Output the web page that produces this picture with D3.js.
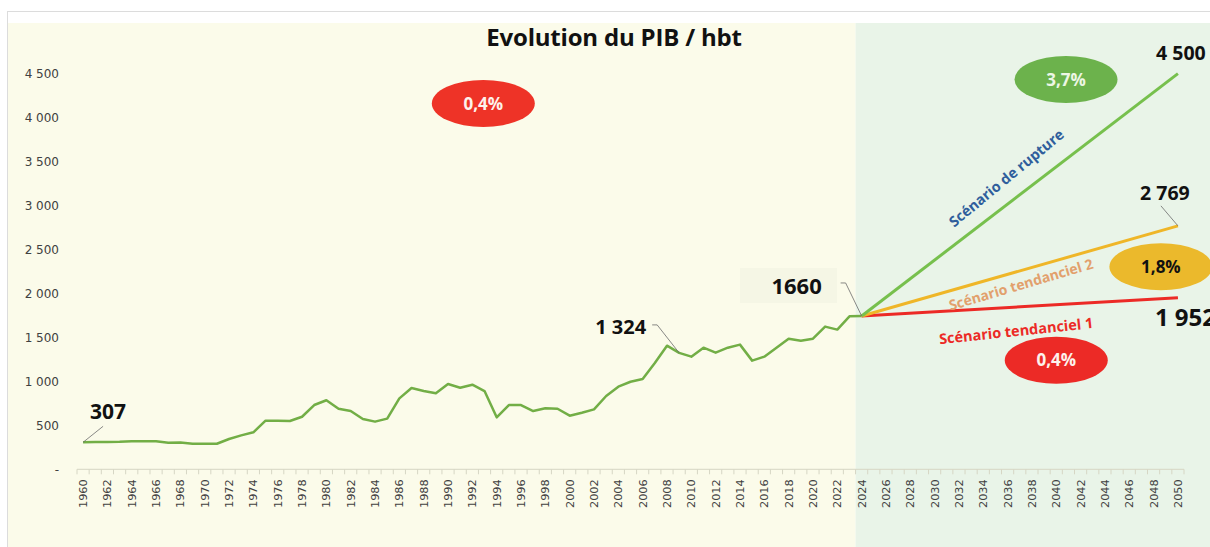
<!DOCTYPE html>
<html>
<head>
<meta charset="utf-8">
<script src="https://cdn.jsdelivr.net/npm/d3@7"></script>
<style>
  body { margin: 0; background: #fff; }
  svg { display: block; font-family: "Open Sans", sans-serif; }
</style>
</head>
<body>
<svg id="chart" width="1210" height="547"></svg>
<script>
// categories
var years = d3.range(1960, 2051);
var histStart = 1960;
// PIB / hbt, 1960 -> 2024
var histValues = [
  307, 310, 310, 312, 318, 318, 318, 303, 306, 291,
  291, 291, 345, 386, 421, 553, 553, 549, 598, 731,
  785, 689, 663, 572, 542, 576, 807, 925, 890, 864,
  970, 928, 962, 890, 591, 731, 731, 663, 694, 689,
  610, 644, 682, 834, 940, 996, 1027, 1210, 1406, 1324,
  1281, 1383, 1327, 1383, 1418, 1236, 1281, 1383, 1486, 1463,
  1486, 1623, 1589, 1740, 1744
];
var scenarioYears = [2024, 2050];
var rupture = [1744, 4500];
var tendanciel2 = [1744, 2769];
var tendanciel1 = [1744, 1952];
var yTicks = [0, 500, 1000, 1500, 2000, 2500, 3000, 3500, 4000, 4500];

var svg = d3.select('#chart');
var W = 1210, H = 547;

var x = d3.scaleBand().domain(years).range([77, 1184]).padding(0);
var bw = x.bandwidth();
var xc = function(yr){ return x(yr) + bw / 2; };
// continuous version for annotation placement
var xl = d3.scaleLinear().domain([1960, 2050]).range([xc(1960), xc(2050)]);
var y = d3.scaleLinear().domain([0, 5000]).range([469.3, 29.7]);

var loc = d3.formatLocale({decimal: ',', thousands: ' ', grouping: [3], currency: ['', '']});
var fmt = loc.format(',');

// frame + backgrounds
svg.append('rect').attr('x', 7.5).attr('y', 11.5).attr('width', W).attr('height', H)
  .attr('fill', '#fff').attr('stroke', '#dcdcdc');
svg.append('rect').attr('x', 8).attr('y', 23).attr('width', x(2024) - 8).attr('height', H - 23)
  .attr('fill', '#fbfbea');
svg.append('rect').attr('x', x(2024)).attr('y', 23).attr('width', W - x(2024)).attr('height', H - 23)
  .attr('fill', '#e9f4e8');

// title
svg.append('text').attr('x', 614).attr('y', 46).attr('text-anchor', 'middle')
  .attr('font-size', 24).attr('font-weight', 700).attr('fill', '#111')
  .attr('letter-spacing', -0.2)
  .text('Evolution du PIB / hbt');

// y axis labels
svg.append('g').selectAll('text').data(yTicks).join('text')
  .attr('x', 59).attr('y', function(d){ return y(d); }).attr('dy', '0.35em')
  .attr('text-anchor', 'end').attr('font-size', 12).attr('fill', '#404040')
  .attr('font-family', '"DejaVu Sans", sans-serif')
  .text(function(d){ return d === 0 ? '-' : fmt(d); });

// x axis
var gx = svg.append('g').attr('transform', 'translate(0,' + y(0) + ')');
gx.append('line').attr('x1', 77).attr('x2', 1184).attr('stroke', '#d6d6c4').attr('stroke-width', 1);
gx.selectAll('line.tk').data(years.concat([2051])).join('line').attr('class', 'tk')
  .attr('x1', function(d){ return d === 2051 ? 1184 : x(d); })
  .attr('x2', function(d){ return d === 2051 ? 1184 : x(d); })
  .attr('y1', 0).attr('y2', 5).attr('stroke', '#d6d6c4');
gx.selectAll('text').data(years.filter(function(d){ return d % 2 === 0; })).join('text')
  .attr('transform', function(d){ return 'translate(' + xc(d) + ',10) rotate(-90)'; })
  .attr('text-anchor', 'end').attr('dy', '0.35em')
  .attr('font-size', 11.3).attr('fill', '#404040')
  .attr('font-family', '"DejaVu Sans", sans-serif')
  .text(function(d){ return d; });

// historical line
var hist = histValues.map(function(v, i){ return {year: histStart + i, value: v}; });
var line = d3.line().x(function(d){ return xc(d.year); }).y(function(d){ return y(d.value); });
svg.append('path').datum(hist).attr('d', line)
  .attr('fill', 'none').attr('stroke', '#72ae46').attr('stroke-width', 2.5)
  .attr('stroke-linejoin', 'round');

// scenarios
var scen = [
  {vals: tendanciel1, color: '#ec2a26'},
  {vals: tendanciel2, color: '#efb628'},
  {vals: rupture, color: '#77c04d'}
];
scen.forEach(function(s){
  var pts = scenarioYears.map(function(yr, i){ return {year: yr, value: s.vals[i]}; });
  svg.append('path').datum(pts).attr('d', line)
    .attr('fill', 'none').attr('stroke', s.color).attr('stroke-width', 3);
});

// leader lines
function leader(pts){
  svg.append('polyline').attr('points', pts.map(function(p){ return p.join(','); }).join(' '))
    .attr('fill', 'none').attr('stroke', '#6b6b6b').attr('stroke-width', 0.8);
}
var p307 = [xc(1960), y(307)];
leader([p307, [p307[0] + 20, p307[1] - 16]]);
var p1324 = [xc(2009), y(1324)];
leader([p1324, [p1324[0] - 22, p1324[1] - 28], [p1324[0] - 27, p1324[1] - 28]]);
var p1660 = [xc(2024), y(1744)];
leader([p1660, [p1660[0] - 16, p1660[1] - 33], [p1660[0] - 21, p1660[1] - 33]]);
var p2769 = [xc(2050), y(2769)];
leader([p2769, [p2769[0] - 17, p2769[1] - 20]]);

// value labels
function valueLabel(txt, px, py, anchor, size){
  svg.append('text').attr('x', px).attr('y', py).attr('text-anchor', anchor)
    .attr('font-size', size).attr('font-weight', 700).attr('fill', '#111').text(txt);
}
valueLabel('307', p307[0] + 7, p307[1] - 23, 'start', 21);
valueLabel('1 324', p1324[0] - 33, p1324[1] - 19, 'end', 20);
svg.append('rect').attr('x', 740).attr('y', 268).attr('width', 97).attr('height', 35)
  .attr('fill', '#f5f6e5');
valueLabel('1660', p1660[0] - 65, p1660[1] - 22, 'middle', 22);
valueLabel('2 769', p2769[0] - 13, p2769[1] - 26, 'middle', 19.5);
valueLabel('4 500', xc(2050) + 3, y(4500) - 14, 'middle', 19.5);
valueLabel('1 952', xc(2050) - 23, y(1952) + 28, 'start', 24);

// growth-rate ellipses
function bubble(yr, val, fill, txt, txtColor){
  var cx = xl(yr), cy = y(val);
  svg.append('ellipse').attr('cx', cx).attr('cy', cy).attr('rx', 51.5).attr('ry', 23.5).attr('fill', fill);
  svg.append('text').attr('x', cx).attr('y', cy).attr('dy', '0.36em').attr('text-anchor', 'middle')
    .attr('font-size', 17).attr('font-weight', 700).attr('fill', txtColor).text(txt);
}
bubble(1992.9, 4161, '#ee3327', '0,4%', '#fdf2ec');
bubble(2040.8, 4434, '#6cb24c', '3,7%', '#edf6e4');
bubble(2048.6, 2304, '#ebb92c', '1,8%', '#111');
bubble(2040.0, 1240, '#ec2a26', '0,4%', '#fdf2ec');

// scenario names
function scenLabel(txt, yr, val, angle, color, size){
  svg.append('text')
    .attr('transform', 'translate(' + xl(yr) + ',' + y(val) + ') rotate(' + angle + ')')
    .attr('text-anchor', 'middle').attr('dy', '0.35em')
    .attr('font-size', size).attr('font-weight', 700).attr('fill', color).text(txt);
}
scenLabel('Scénario de rupture', 2035.9, 3313, -39.5, '#2f5e9c', 14.5);
scenLabel('Scénario tendanciel 2', 2037.1, 2100, -16.5, '#e2a06c', 14);
scenLabel('Scénario tendanciel 1', 2036.7, 1573, -6, '#ec2a26', 14.5);
</script>
</body>
</html>
